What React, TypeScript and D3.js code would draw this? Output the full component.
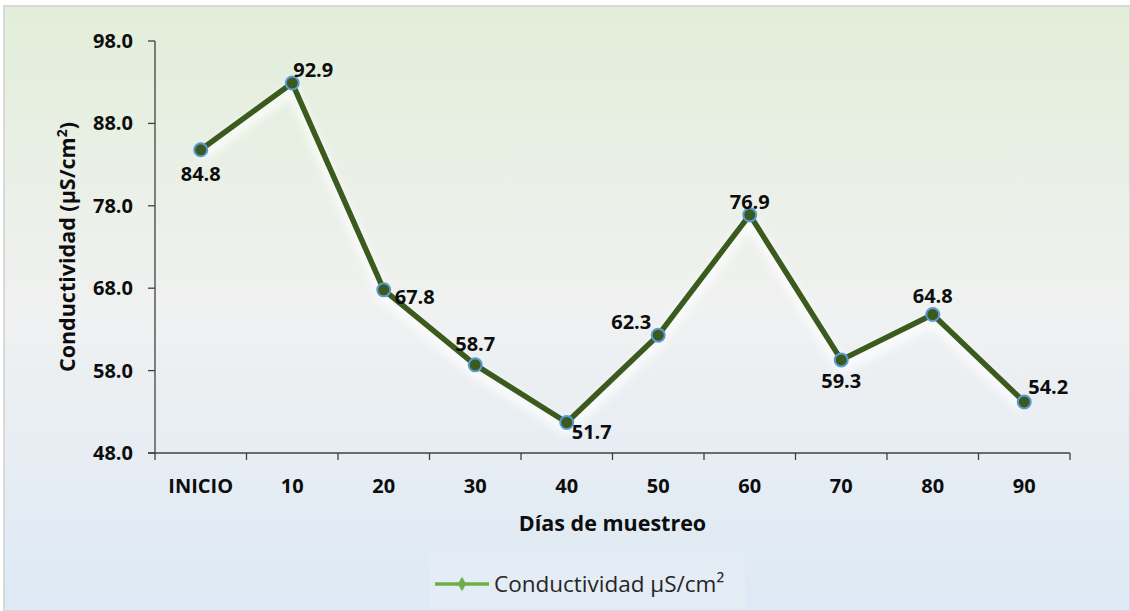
import React from "react";
import * as d3 from "d3";

const categories = ["INICIO", "10", "20", "30", "40", "50", "60", "70", "80", "90"];
const conductividad = [84.8, 92.9, 67.8, 58.7, 51.7, 62.3, 76.9, 59.3, 64.8, 54.2];
const yTicks = [48, 58, 68, 78, 88, 98];
// label placement per point: dx, dy relative to the marker, and anchor
const labelPos: [number, number, string][] = [
  [0, 24, "middle"],
  [1, -13, "start"],
  [11, 7, "start"],
  [0, -21, "middle"],
  [5, 9, "start"],
  [-7, -13, "end"],
  [0, -13, "middle"],
  [0, 21, "middle"],
  [0, -19, "middle"],
  [4, -15, "start"],
];

const W = 1130;
const H = 611;
const M = { left: 155, right: 1070, top: 41, bottom: 453 };
const FONT = "'Open Sans', 'DejaVu Sans', sans-serif";
const TICK_FS = 20;

export default function App() {
  const x = d3
    .scaleBand<string>()
    .domain(categories)
    .range([M.left, M.right]);
  const y = d3.scaleLinear().domain([48, 98]).range([M.bottom, M.top]);
  const cx = (c: string) => (x(c) ?? 0) + x.bandwidth() / 2;

  const line = d3
    .line<number>()
    .x((_, i) => cx(categories[i]))
    .y((d) => y(d));
  const path = line(conductividad) ?? "";

  const tickEdges = categories.map((c) => x(c) ?? 0).concat([M.right]);

  return (
    <div style={{ position: "absolute", left: 0, top: 0 }}>
      <svg width={W} height={H} style={{ display: "block" }}>
        <defs>
          <linearGradient id="bg" x1="0" y1="0" x2="0" y2="1">
            <stop offset="0" stopColor="#e2eed9" />
            <stop offset="0.5" stopColor="#f0f1f1" />
            <stop offset="1" stopColor="#dde9f5" />
          </linearGradient>
          <filter id="glow" x="-10%" y="-10%" width="120%" height="130%">
            <feGaussianBlur stdDeviation="5" />
          </filter>
        </defs>
        <rect x={0} y={0} width={W} height={H} fill="#ffffff" />
        <rect x={4} y={6} width={W - 4} height={H - 6} fill="url(#bg)" stroke="#d9d9d9" strokeWidth={2} />

        {/* legend backdrop */}
        <rect x={429} y={552} width={316} height={56} fill="#e4ecf5" />

        {/* axes */}
        <line x1={M.left} x2={M.left} y1={M.top} y2={M.bottom} stroke="#404040" strokeWidth={1.3} />
        {yTicks.map((t) => (
          <g key={t}>
            <line x1={M.left - 7} x2={M.left} y1={y(t)} y2={y(t)} stroke="#404040" strokeWidth={1.3} />
            <text
              x={M.left - 22}
              y={y(t)}
              dy="0.35em"
              textAnchor="end"
              fontFamily={FONT}
              fontWeight={700}
              fontSize={TICK_FS}
              fill="#0d0d0d"
            >
              {t.toFixed(1)}
            </text>
          </g>
        ))}
        <line x1={M.left - 7} x2={M.right} y1={M.bottom} y2={M.bottom} stroke="#404040" strokeWidth={1.3} />
        {tickEdges.map((e, i) => (
          <line key={i} x1={e} x2={e} y1={M.bottom} y2={M.bottom + 7} stroke="#404040" strokeWidth={1.3} />
        ))}
        {categories.map((c) => (
          <text
            key={c}
            x={cx(c)}
            y={M.bottom + 33}
            dy="0.35em"
            textAnchor="middle"
            fontFamily={FONT}
            fontWeight={700}
            fontSize={TICK_FS}
            fill="#0d0d0d"
          >
            {c}
          </text>
        ))}

        <text
          x={(M.left + M.right) / 2}
          y={523}
          dy="0.35em"
          textAnchor="middle"
          fontFamily={FONT}
          fontWeight={700}
          fontSize={21.5}
          fill="#0d0d0d"
        >
          Días de muestreo
        </text>
        <text
          transform={`translate(67,${(M.top + M.bottom) / 2}) rotate(-90)`}
          dy="0.35em"
          textAnchor="middle"
          fontFamily={FONT}
          fontWeight={700}
          fontSize={21.5}
          fill="#0d0d0d"
        >
          Conductividad (µS/cm<tspan dy="-8" fontSize={14}>2</tspan><tspan dy="8">)</tspan>
        </text>

        {/* series */}
        <path d={path} transform="translate(0,7)" fill="none" stroke="#ffffff" strokeWidth={9} opacity={0.9} filter="url(#glow)" />
        <path d={path} fill="none" stroke="#3b5a1e" strokeWidth={5.5} strokeLinejoin="round" />
        {conductividad.map((v, i) => (
          <circle key={i} cx={cx(categories[i])} cy={y(v)} r={6.5} fill="#3b5a1e" stroke="#5b9bd5" strokeWidth={2} />
        ))}
        {conductividad.map((v, i) => {
          const [dx, dy, anchor] = labelPos[i];
          return (
            <text
              key={i}
              x={cx(categories[i]) + dx}
              y={y(v) + dy}
              dy="0.35em"
              textAnchor={anchor as any}
              fontFamily={FONT}
              fontWeight={700}
              fontSize={TICK_FS}
              fill="#0d0d0d"
            >
              {v.toFixed(1)}
            </text>
          );
        })}

        {/* legend */}
        <line x1={435} x2={489} y1={584} y2={584} stroke="#70ad47" strokeWidth={3.5} />
        <path
          d={d3.symbol().type(d3.symbolDiamond).size(60)() ?? ""}
          transform="translate(462,584)"
          fill="#70ad47"
        />
        <text x={494} y={584} dy="0.35em" fontFamily={FONT} fontSize={22.5} fill="#262626">
          Conductividad µS/cm²
        </text>
      </svg>
    </div>
  );
}
